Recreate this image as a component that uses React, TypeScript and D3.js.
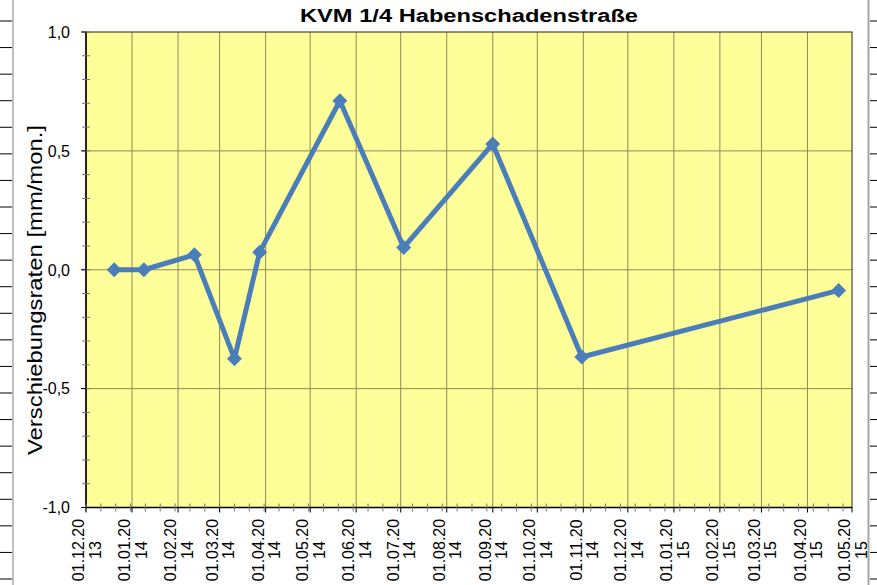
import React from "react";
import * as d3 from "d3";

const W = 877;
const H = 585;
const PLOT_LEFT = 86;
const PLOT_RIGHT = 852;
const PLOT_TOP = 32;
const PLOT_BOTTOM = 507.5;

const title = "KVM 1/4 Habenschadenstraße";
const yLabel = "Verschiebungsraten [mm/mon.]";

// measurement dates and displacement rates (mm/month)
const dates = [
  "2013-12-20",
  "2014-01-09",
  "2014-02-12",
  "2014-03-11",
  "2014-03-28",
  "2014-05-21",
  "2014-07-03",
  "2014-09-01",
  "2014-10-31",
  "2015-04-22",
];
const rates = [0, 0, 0.063, -0.374, 0.074, 0.711, 0.094, 0.529, -0.367, -0.087];

const xDomain = ["2013-12-01", "2015-05-01"];
const yTicks = [-1, -0.5, 0, 0.5, 1];
const yMinorTicks = d3.range(-10, 11).map((d) => d / 10);

const parse = d3.utcParse("%Y-%m-%d");
const locale = d3.formatLocale({
  decimal: ",",
  thousands: ".",
  grouping: [3],
  currency: ["", " €"],
  minus: "-",
});
const fmtY = locale.format(".1f");
const fmtLine1 = d3.utcFormat("%d.%m.20");
const fmtLine2 = d3.utcFormat("%y");

const FONT = "'Liberation Sans', Arial, sans-serif";

export default function App() {
  const x = d3
    .scaleUtc()
    .domain(xDomain.map((d) => parse(d) as Date))
    .range([PLOT_LEFT, PLOT_RIGHT]);
  const y = d3.scaleLinear().domain([-1, 1]).range([PLOT_BOTTOM, PLOT_TOP]);

  const [d0, d1] = x.domain();
  const months = d3.utcMonth.range(d0, d3.utcDay.offset(d1, 1));
  const minorDays = d3.utcDay.range(d0, d1, 10);

  const points = dates.map((d, i) => ({ date: parse(d) as Date, value: rates[i] }));
  const line = d3
    .line<{ date: Date; value: number }>()
    .x((d) => x(d.date))
    .y((d) => y(d.value));
  const diamond = d3.symbol().type(d3.symbolSquare).size(112)();

  // ruler marks at the page edges
  const rows = d3.range(0, 22);
  const rowY = d3.scaleLinear().domain([0, 21]).range([21, 579]);

  return (
    <svg
      width={W}
      height={H}
      style={{ position: "absolute", left: 0, top: 0, background: "#fff" }}
      fontFamily={FONT}
    >
      <line x1={13} x2={13} y1={0} y2={H} stroke="#a6a6a6" strokeWidth={1.4} />
      <line x1={868.5} x2={868.5} y1={0} y2={H} stroke="#a6a6a6" strokeWidth={2} />
      {rows.map((r) => (
        <g key={r}>
          <line x1={0} x2={12} y1={rowY(r)} y2={rowY(r)} stroke="#000" />
          <line x1={870} x2={W} y1={rowY(r)} y2={rowY(r)} stroke="#000" />
        </g>
      ))}

      <text
        x={469}
        y={21.7}
        textAnchor="middle"
        fontWeight="bold"
        fontSize={17.5}
        textLength={338}
        lengthAdjust="spacingAndGlyphs"
      >
        {title}
      </text>

      <rect
        x={PLOT_LEFT}
        y={PLOT_TOP}
        width={PLOT_RIGHT - PLOT_LEFT}
        height={PLOT_BOTTOM - PLOT_TOP}
        fill="#ffff99"
      />

      {months.slice(1, -1).map((m) => (
        <line
          key={+m}
          x1={x(m)}
          x2={x(m)}
          y1={PLOT_TOP}
          y2={PLOT_BOTTOM}
          stroke="#8f8a5a"
          strokeWidth={1}
        />
      ))}
      {yTicks.slice(1, -1).map((t) => (
        <line
          key={t}
          x1={PLOT_LEFT}
          x2={PLOT_RIGHT}
          y1={y(t)}
          y2={y(t)}
          stroke="#8f8a5a"
          strokeWidth={1}
        />
      ))}

      <rect
        x={PLOT_LEFT}
        y={PLOT_TOP}
        width={PLOT_RIGHT - PLOT_LEFT}
        height={PLOT_BOTTOM - PLOT_TOP}
        fill="none"
        stroke="#222"
        strokeWidth={1}
      />

      {/* y axis */}
      <line x1={PLOT_LEFT} x2={PLOT_LEFT} y1={PLOT_TOP} y2={PLOT_BOTTOM} stroke="#000" strokeWidth={1.5} />
      {yMinorTicks.map((t) => (
        <line key={t} x1={PLOT_LEFT - 4} x2={PLOT_LEFT + 4} y1={y(t)} y2={y(t)} stroke="#777" />
      ))}
      {yTicks.map((t) => (
        <g key={t}>
          <line x1={PLOT_LEFT - 5} x2={PLOT_LEFT} y1={y(t)} y2={y(t)} stroke="#000" />
          <text x={70} y={y(t)} dy="0.36em" textAnchor="end" fontSize={16}>
            {fmtY(t)}
          </text>
        </g>
      ))}
      <text
        transform={`translate(41.5, 290) rotate(-90)`}
        textAnchor="middle"
        fontSize={20.5}
        textLength={330}
        lengthAdjust="spacingAndGlyphs"
      >
        {yLabel}
      </text>

      {/* x axis */}
      <line x1={PLOT_LEFT} x2={PLOT_RIGHT} y1={PLOT_BOTTOM} y2={PLOT_BOTTOM} stroke="#000" strokeWidth={1.5} />
      {minorDays.map((d) => (
        <line key={+d} x1={x(d)} x2={x(d)} y1={PLOT_BOTTOM - 4} y2={PLOT_BOTTOM + 4} stroke="#777" />
      ))}
      {months.map((m) => (
        <g key={+m}>
          <line x1={x(m)} x2={x(m)} y1={PLOT_BOTTOM} y2={PLOT_BOTTOM + 5} stroke="#000" />
          <text
            transform={`translate(${x(m)}, 550) rotate(-90)`}
            textAnchor="middle"
            fontSize={16}
          >
            <tspan x={0} y={-1.8}>
              {fmtLine1(m)}
            </tspan>
            <tspan x={0} y={14.7}>
              {fmtLine2(m)}
            </tspan>
          </text>
        </g>
      ))}

      {/* series */}
      <path
        d={line(points) ?? ""}
        fill="none"
        stroke="#4a7ebb"
        strokeWidth={5}
        strokeLinejoin="round"
      />
      {points.map((p, i) => (
        <path
          key={i}
          d={diamond ?? ""}
          transform={`translate(${x(p.date)}, ${y(p.value)}) rotate(45)`}
          fill="#4a7ebb"
        />
      ))}
    </svg>
  );
}
